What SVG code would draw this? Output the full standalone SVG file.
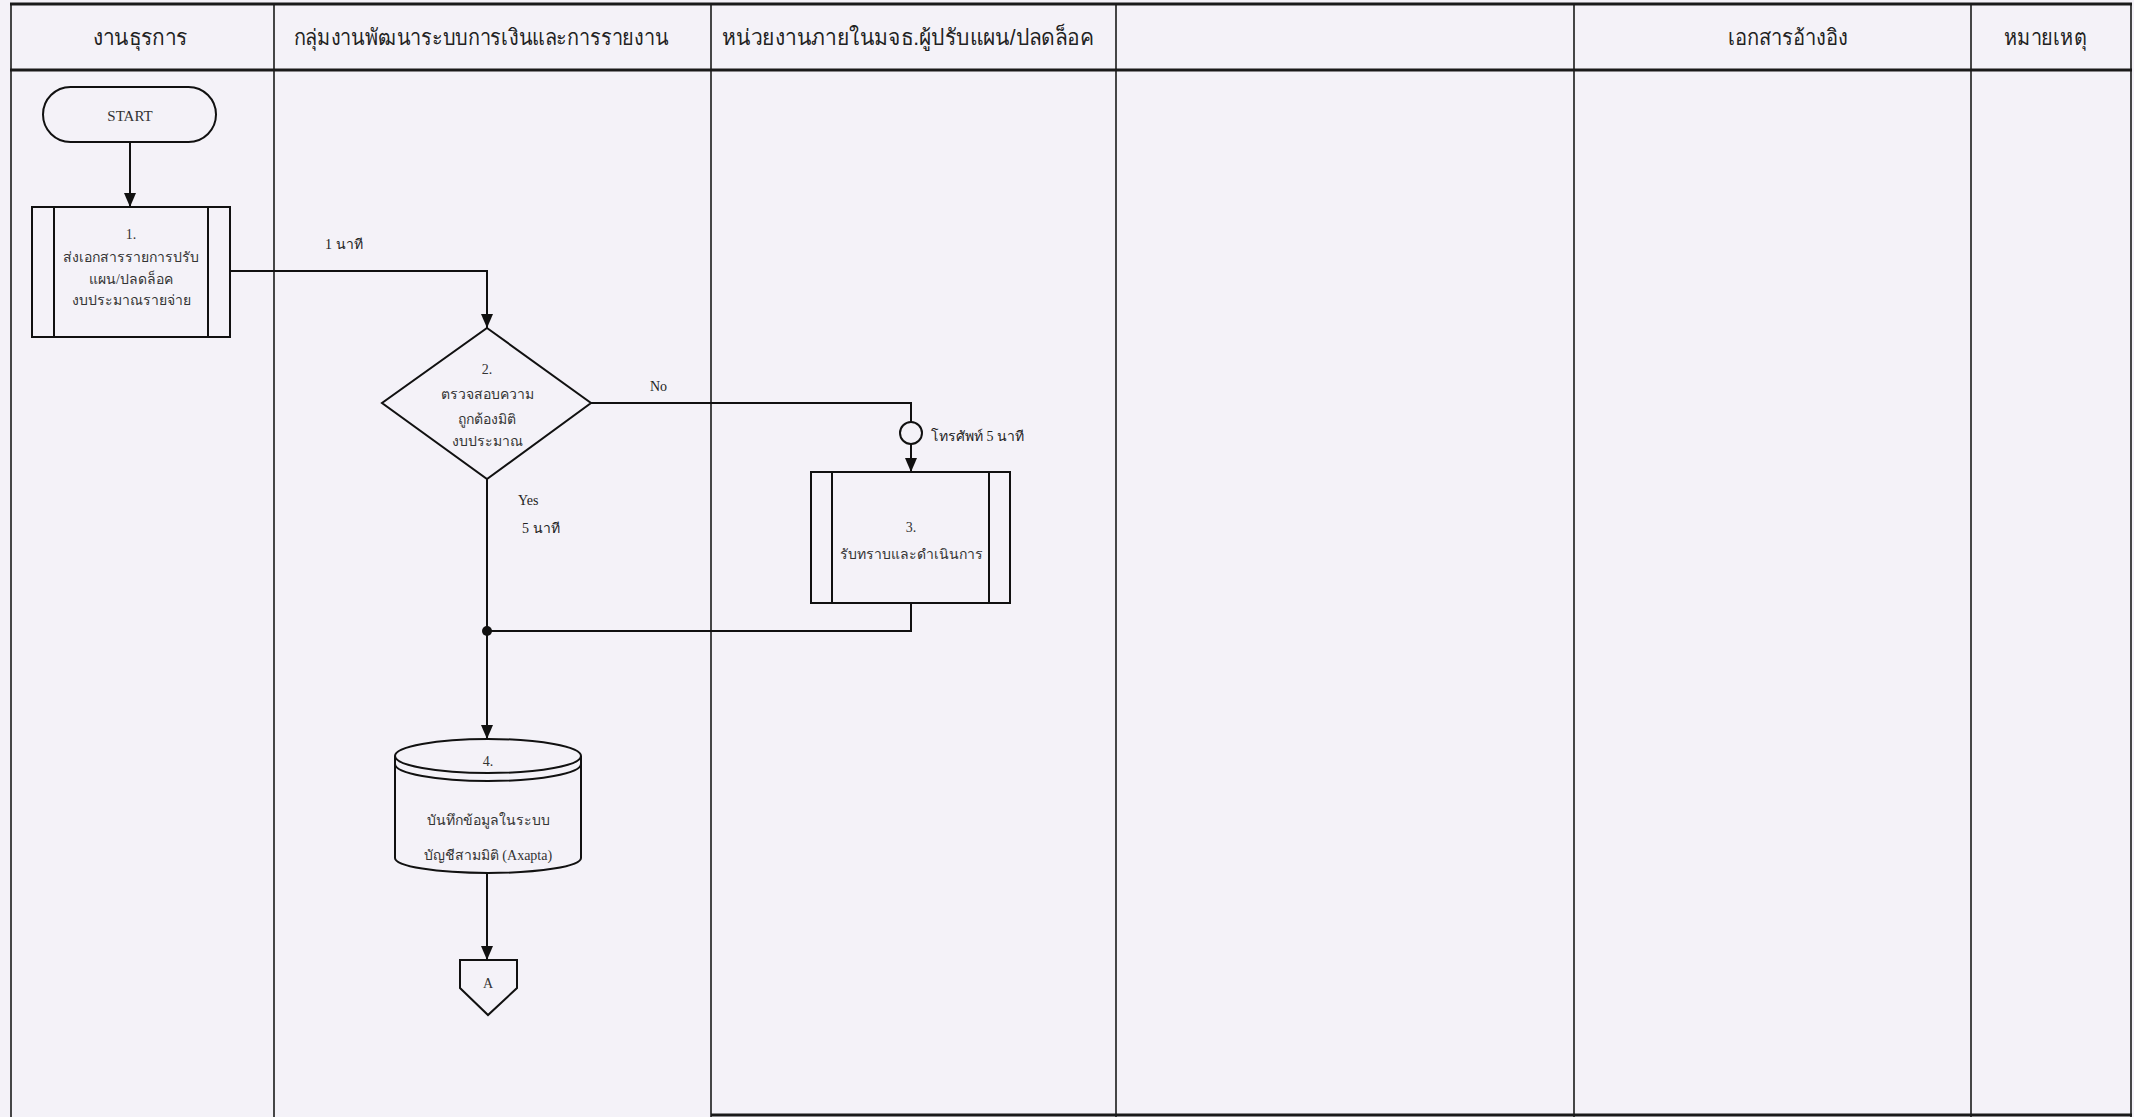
<svg xmlns="http://www.w3.org/2000/svg" width="2134" height="1117" viewBox="0 0 2134 1117">
<defs>
<style>
.bg{fill:#f4f2f8}
.grid{stroke:#1a1a1a;stroke-width:1.6;fill:none}
.gridb{stroke:#1a1a1a;stroke-width:3;fill:none}
.shape{fill:none;stroke:#111;stroke-width:2}
.conn{fill:none;stroke:#111;stroke-width:2}
.hdr{font-family:"Liberation Sans","Noto Sans",sans-serif;font-size:22px;fill:#222;text-anchor:middle}
.t{font-family:"Liberation Serif","Noto Serif",serif;font-size:14px;fill:#333;text-anchor:middle}
.lbl{font-family:"Liberation Serif","Noto Serif",serif;font-size:14px;fill:#222}
</style>
<marker id="arrL" viewBox="0 0 14 12" refX="14" refY="6" markerWidth="14" markerHeight="12" markerUnits="userSpaceOnUse" orient="auto">
<path d="M0,0 L14,6 L0,12 z" fill="#111"/>
</marker>
</defs>
<rect class="bg" x="0" y="0" width="2134" height="1117"/>

<g id="lanes">
<line class="gridb" x1="10" y1="4" x2="2132" y2="4"/>
<line class="gridb" x1="10" y1="70" x2="2132" y2="70"/>
<line class="gridb" x1="711" y1="1115" x2="2132" y2="1115"/>
<line class="grid" x1="11" y1="4" x2="11" y2="1117"/>
<line class="grid" x1="274" y1="4" x2="274" y2="1117"/>
<line class="grid" x1="711" y1="4" x2="711" y2="1117"/>
<line class="grid" x1="1116" y1="4" x2="1116" y2="1117"/>
<line class="grid" x1="1574" y1="4" x2="1574" y2="1117"/>
<line class="grid" x1="1971" y1="4" x2="1971" y2="1117"/>
<line class="grid" x1="2131" y1="4" x2="2131" y2="1117"/>
<text class="hdr" x="140" y="45" textLength="95" lengthAdjust="spacingAndGlyphs">งานธุรการ</text>
<text class="hdr" x="481" y="45" textLength="375" lengthAdjust="spacingAndGlyphs">กลุ่มงานพัฒนาระบบการเงินและการรายงาน</text>
<text class="hdr" x="908" y="45" textLength="372" lengthAdjust="spacingAndGlyphs">หน่วยงานภายในมจธ.ผู้ปรับแผน/ปลดล็อค</text>
<text class="hdr" x="1788" y="45" textLength="120" lengthAdjust="spacingAndGlyphs">เอกสารอ้างอิง</text>
<text class="hdr" x="2045" y="45" textLength="83" lengthAdjust="spacingAndGlyphs">หมายเหตุ</text>
</g>

<g id="connectors">
<line class="conn" x1="130" y1="142" x2="130" y2="207" marker-end="url(#arrL)"/>
<polyline class="conn" points="230,271 487,271 487,328" marker-end="url(#arrL)"/>
<polyline class="conn" points="591,403 911,403 911,422"/>
<line class="conn" x1="911" y1="444" x2="911" y2="472" marker-end="url(#arrL)"/>
<polyline class="conn" points="911,603 911,631 487,631"/>
<line class="conn" x1="487" y1="479" x2="487" y2="739" marker-end="url(#arrL)"/>
<line class="conn" x1="487" y1="873" x2="487" y2="960" marker-end="url(#arrL)"/>
<circle cx="487" cy="631" r="5" fill="#111"/>
<text class="lbl" x="325" y="249">1 นาที</text>
<text class="lbl" x="650" y="391">No</text>
<text class="lbl" x="518" y="505">Yes</text>
<text class="lbl" x="522" y="533">5 นาที</text>
<text class="lbl" x="931" y="441">โทรศัพท์ 5 นาที</text>
</g>

<g id="start">
<rect class="shape" x="43" y="87" width="173" height="55" rx="27.5" ry="27.5"/>
<text class="t" x="130" y="121" style="font-size:15px">START</text>
</g>

<g id="node1">
<rect class="shape" x="32" y="207" width="198" height="130"/>
<line class="shape" x1="54" y1="207" x2="54" y2="337"/>
<line class="shape" x1="208" y1="207" x2="208" y2="337"/>
<text class="t" x="131" y="239">1.</text>
<text class="t" x="131" y="262">ส่งเอกสารรายการปรับ</text>
<text class="t" x="131" y="284">แผน/ปลดล็อค</text>
<text class="t" x="131" y="305">งบประมาณรายจ่าย</text>
</g>

<g id="node2">
<polygon class="shape" points="487,328 591,403 487,479 382,403"/>
<text class="t" x="487" y="374">2.</text>
<text class="t" x="487" y="399">ตรวจสอบความ</text>
<text class="t" x="487" y="424">ถูกต้องมิติ</text>
<text class="t" x="487" y="446">งบประมาณ</text>
</g>

<g id="phone">
<circle class="shape" cx="911" cy="433" r="11"/>
</g>

<g id="node3">
<rect class="shape" x="811" y="472" width="199" height="131"/>
<line class="shape" x1="832" y1="472" x2="832" y2="603"/>
<line class="shape" x1="989" y1="472" x2="989" y2="603"/>
<text class="t" x="911" y="532">3.</text>
<text class="t" x="911" y="559">รับทราบและดำเนินการ</text>
</g>

<g id="node4">
<path class="shape" d="M395,756 A93,17 0 0 1 581,756 L581,858 A93,15 0 0 1 395,858 Z"/>
<path class="shape" d="M395,756 A93,17 0 0 0 581,756"/>
<path class="shape" d="M395,764 A93,17 0 0 0 581,764"/>
<text class="t" x="488" y="766">4.</text>
<text class="t" x="488" y="825">บันทึกข้อมูลในระบบ</text>
<text class="t" x="488" y="860">บัญชีสามมิติ (Axapta)</text>
</g>

<g id="offpage">
<polygon class="shape" points="460,960 517,960 517,988 488,1015 460,988"/>
<text class="t" x="488" y="988">A</text>
</g>
</svg>
